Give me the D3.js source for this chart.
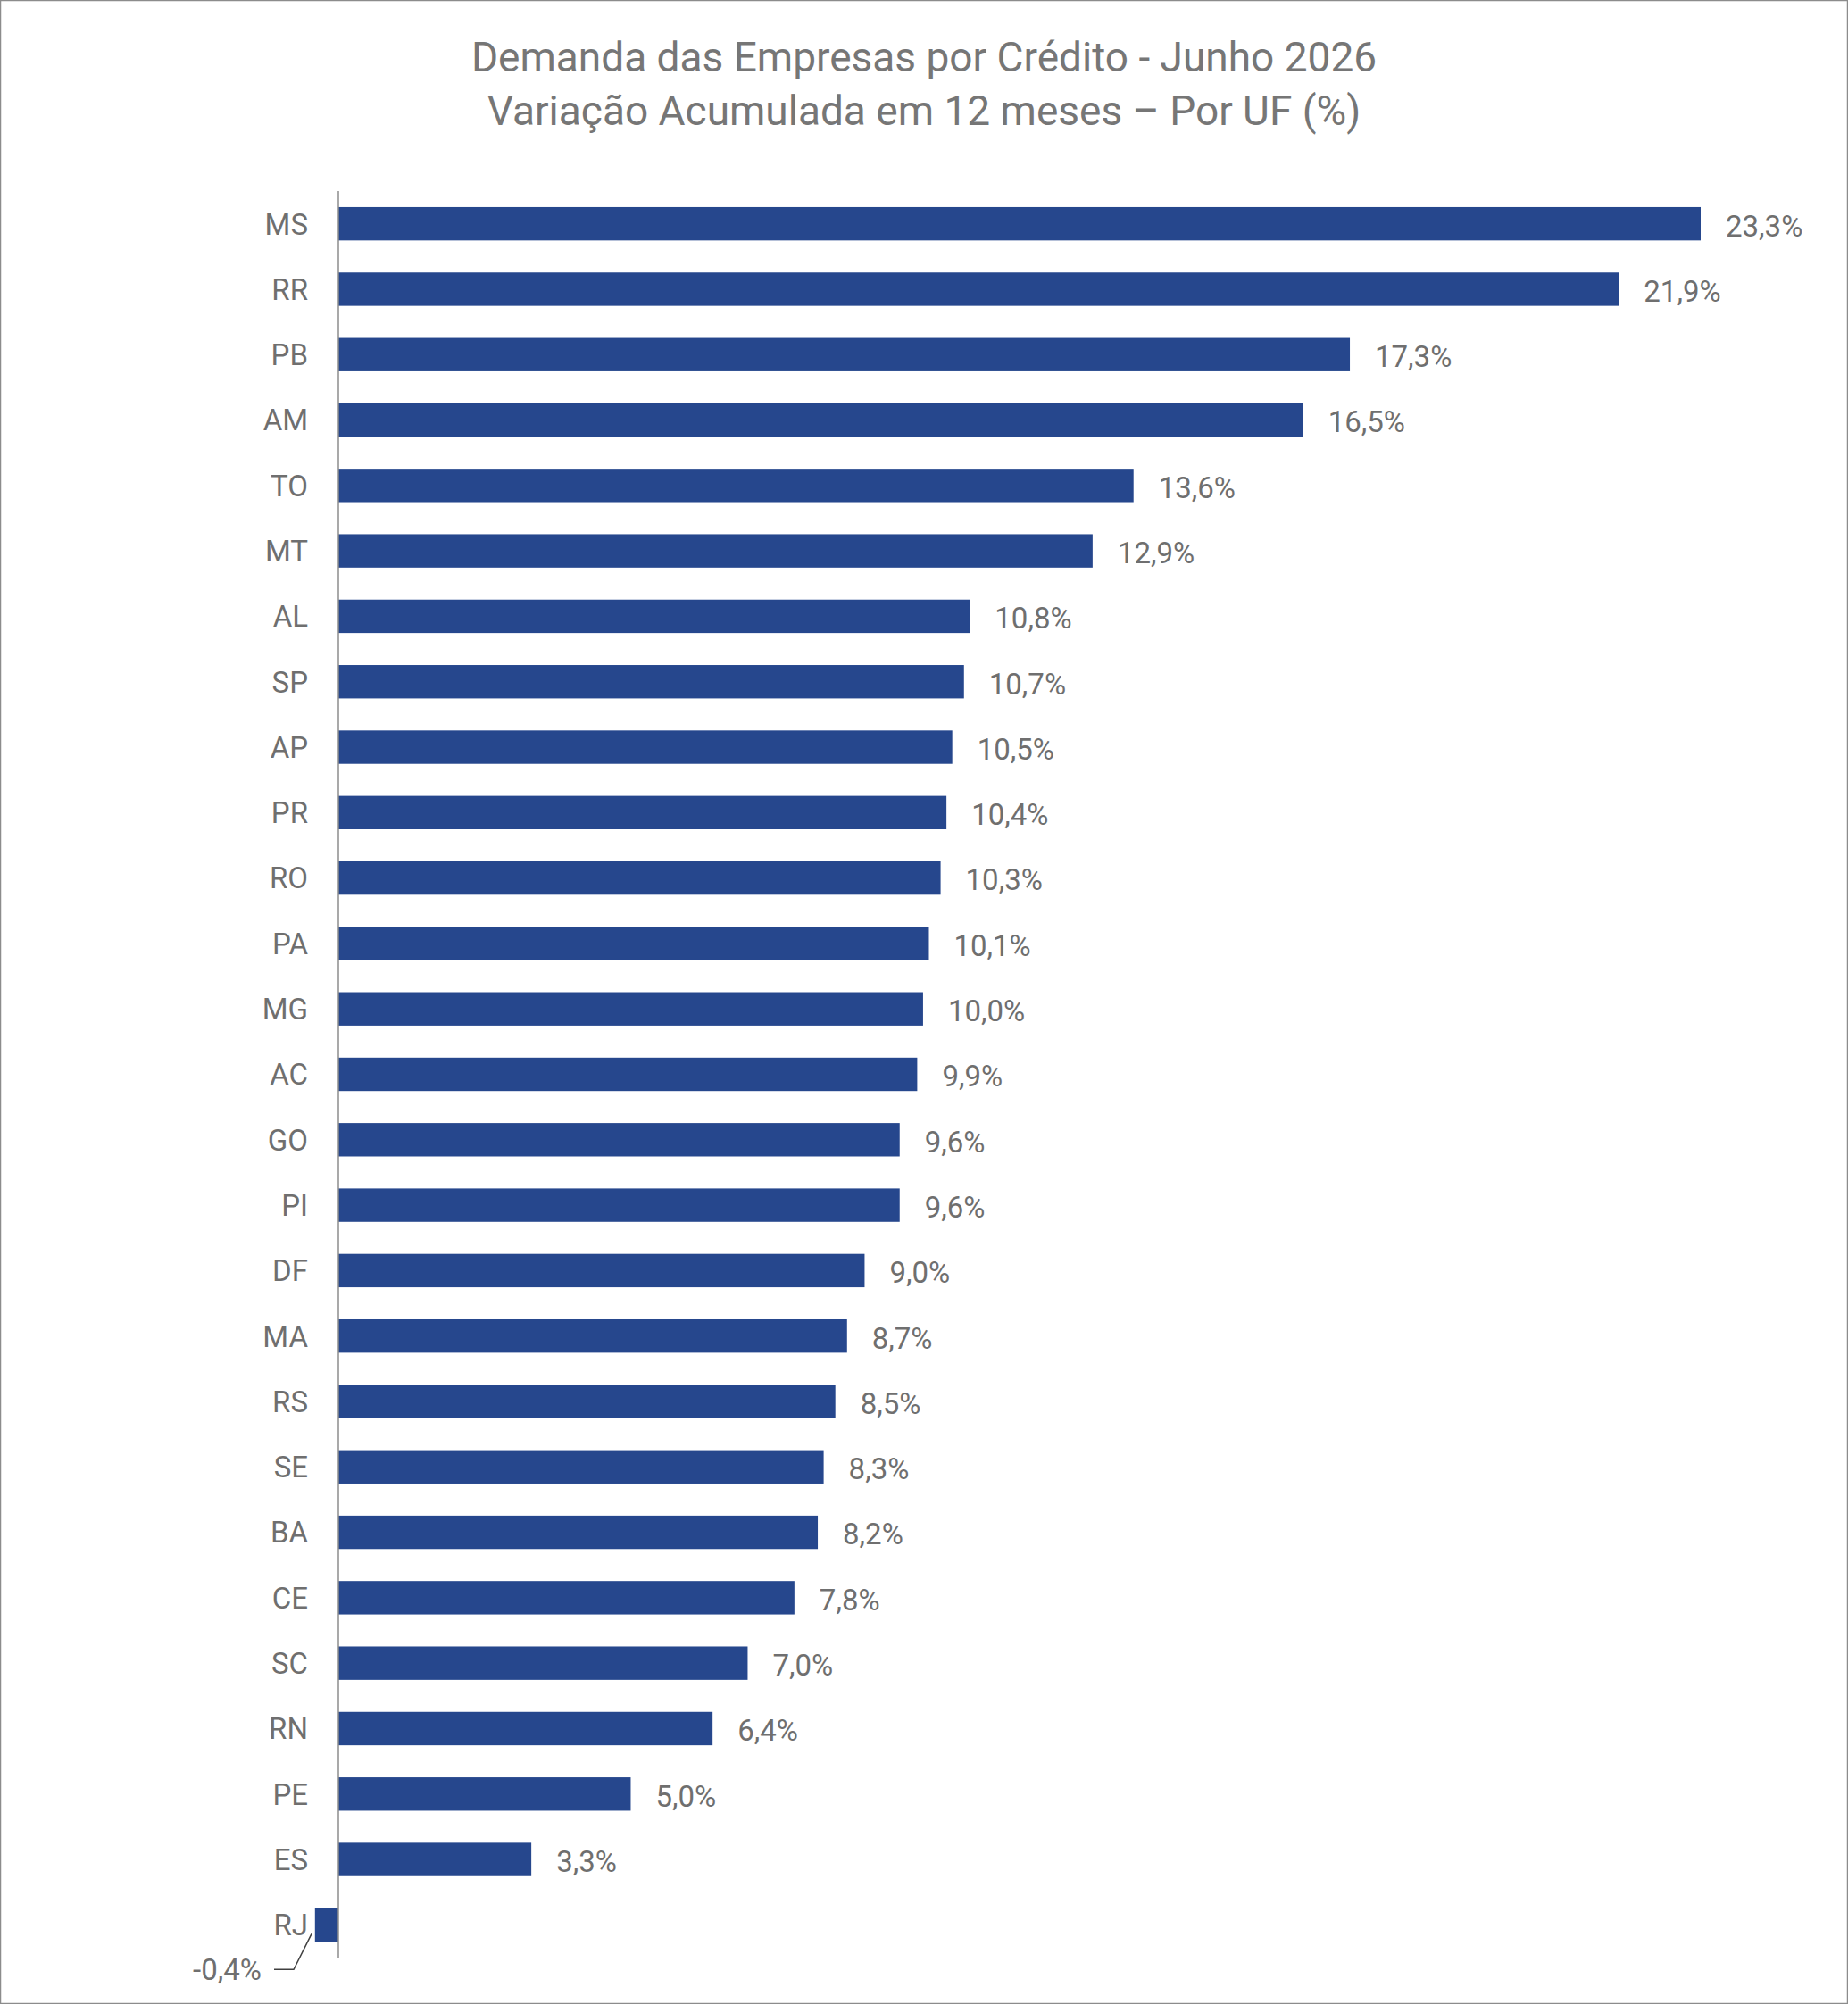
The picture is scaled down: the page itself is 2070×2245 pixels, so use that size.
<!DOCTYPE html>
<html lang="pt">
<head>
<meta charset="UTF-8">
<title>Demanda das Empresas por Crédito</title>
<script src="https://cdnjs.cloudflare.com/ajax/libs/d3/7.8.5/d3.min.js"></script>
<style>
  body { margin: 0; background: #fff; font-family: Roboto, Arial, sans-serif; }
</style>
</head>
<body>
<div id="chart"></div>
<script>
// data
var ufs = ["MS","RR","PB","AM","TO","MT","AL","SP","AP","PR","RO","PA","MG","AC","GO","PI","DF","MA","RS","SE","BA","CE","SC","RN","PE","ES","RJ"];
var values = [23.3,21.9,17.3,16.5,13.6,12.9,10.8,10.7,10.5,10.4,10.3,10.1,10.0,9.9,9.6,9.6,9.0,8.7,8.5,8.3,8.2,7.8,7.0,6.4,5.0,3.3,-0.4];
var titleLines = ["Demanda das Empresas por Crédito - Junho 2026", "Variação Acumulada em 12 meses – Por UF (%)"];

var W = 2070, H = 2245;
var svg = d3.select("#chart").append("svg").attr("width", W).attr("height", H);

svg.append("rect").attr("x", 0.5).attr("y", 0.5).attr("width", W - 1).attr("height", H - 1)
    .attr("fill", "#fff").attr("stroke", "#8c8c8c").attr("stroke-width", 1.5);

svg.selectAll(".title").data(titleLines).enter().append("text")
    .attr("x", 1035).attr("y", function(d, i) { return 80 + i * 60; })
    .attr("text-anchor", "middle").attr("fill", "#767676")
    .style("font-size", "46px").text(function(d) { return d; });

var x = d3.scaleLinear().domain([0, 23.3]).range([379, 1905]);
var y = d3.scaleBand().domain(ufs).range([214, 2193]).paddingInner(0.49).paddingOuter(0.245);

var fmt = function(v) { return v.toFixed(1).replace(".", ",") + "%"; };

svg.selectAll(".bar").data(values).enter().append("rect")
    .attr("x", function(d) { return x(Math.min(0, d)); })
    .attr("y", function(d, i) { return y(ufs[i]); })
    .attr("width", function(d) { return Math.abs(x(d) - x(0)); })
    .attr("height", y.bandwidth())
    .attr("fill", "#26478d");

// axis line
svg.append("line").attr("x1", x(0)).attr("x2", x(0)).attr("y1", 214).attr("y2", 2193)
    .attr("stroke", "#8c8c8c").attr("stroke-width", 1.5);

// category labels
svg.selectAll(".cat").data(ufs).enter().append("text")
    .attr("x", x(0) - 34)
    .attr("y", function(d) { return y(d) + y.bandwidth() / 2; })
    .attr("dy", "0.36em").attr("text-anchor", "end").attr("fill", "#6f6f6f")
    .style("font-size", "33px").text(function(d) { return d; });

// value labels
svg.selectAll(".val").data(values.filter(function(d) { return d >= 0; })).enter().append("text")
    .attr("x", function(d) { return x(d) + 28; })
    .attr("y", function(d, i) { return y(ufs[i]) + y.bandwidth() / 2 + 2; })
    .attr("dy", "0.36em").attr("fill", "#6f6f6f")
    .style("font-size", "33px").text(fmt);

// negative value label with leader line
var neg = ufs.length - 1;
var ny = y(ufs[neg]) + y.bandwidth() / 2;
var ly = ny + 50;
svg.append("polyline")
    .attr("points", [[x(0) - 72, ly], [x(0) - 50, ly], [x(0) - 30, ny + 10]].map(function(p) { return p.join(","); }).join(" "))
    .attr("fill", "none").attr("stroke", "#404040").attr("stroke-width", 1.5);
svg.append("text").attr("x", x(0) - 86).attr("y", ly).attr("dy", "0.36em")
    .attr("text-anchor", "end").attr("fill", "#6f6f6f")
    .style("font-size", "33px").text(fmt(values[neg]));
</script>
</body>
</html>
